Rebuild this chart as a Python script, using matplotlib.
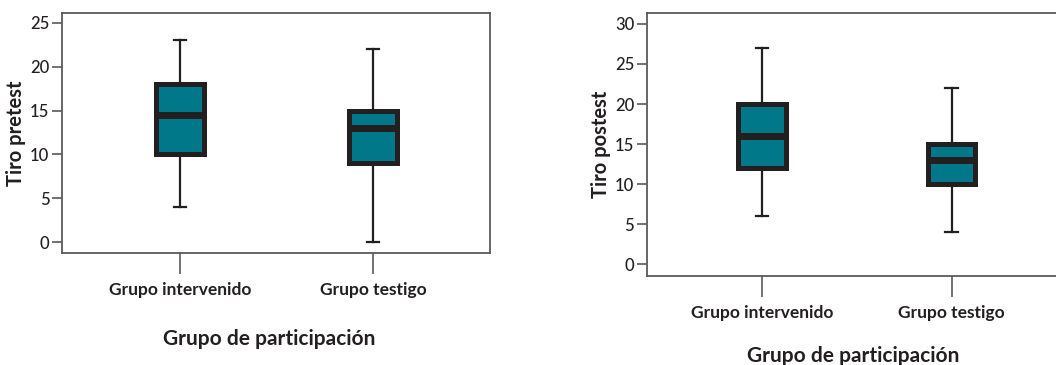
import matplotlib
matplotlib.use("Agg")
import matplotlib.pyplot as plt

plt.rcParams['font.family'] = ['Lato', 'DejaVu Sans']

groups = ["Grupo intervenido", "Grupo testigo"]

# Five-number summaries: (whisker low, Q1, median, Q3, whisker high)
pre_intervenido = [4, 10, 14.5, 18, 23]
pre_testigo = [0, 9, 13, 15, 22]
post_intervenido = [6, 12, 16, 20, 27]
post_testigo = [4, 10, 13, 15, 22]

pre_ticks = [0, 5, 10, 15, 20, 25]
post_ticks = [0, 5, 10, 15, 20, 25, 30]

FILL = "#00788A"
EDGE = "#231F20"
SPINE = "#5a5a5a"


def stats(name, s):
    return dict(label=name, whislo=s[0], q1=s[1], med=s[2], q3=s[3], whishi=s[4], fliers=[])


def draw(ax, series, ticks, ylim, xlim, ylabel, xlabel_pad, xlabel_x):
    bxp = [stats(g, s) for g, s in zip(groups, series)]
    ax.bxp(bxp, positions=[1, 2], widths=0.25, capwidths=0.065, patch_artist=True,
           showfliers=False,
           boxprops=dict(facecolor=FILL, edgecolor=EDGE, linewidth=3.6),
           medianprops=dict(color=EDGE, linewidth=5.0, solid_capstyle='butt'),
           whiskerprops=dict(color=EDGE, linewidth=1.6),
           capprops=dict(color=EDGE, linewidth=1.6))
    ax.set_ylim(*ylim)
    ax.set_xlim(*xlim)
    ax.set_yticks(ticks)
    ax.set_yticklabels([str(t) for t in ticks], fontsize=12, fontweight='medium', color=EDGE)
    ax.set_xticks([1, 2])
    ax.set_xticklabels(groups, fontsize=12.5, fontweight='bold', color=EDGE)
    ax.tick_params(axis='y', length=7, width=1.2, color=SPINE, pad=2)
    ax.tick_params(axis='x', length=15, width=1.2, color=SPINE, pad=6)
    for sp in ax.spines.values():
        sp.set_color(SPINE)
        sp.set_linewidth(1.3)
    ax.set_ylabel(ylabel, fontsize=14.5, fontweight='bold', color=EDGE, labelpad=3)
    ax.set_xlabel("Grupo de participación", fontsize=15, fontweight='bold', color=EDGE,
                  labelpad=xlabel_pad)
    ax.xaxis.label.set_x(xlabel_x)


fig = plt.figure(figsize=(10.56, 3.65), dpi=100)

ax1 = fig.add_axes([0.0587, 0.3068, 0.4053, 0.6576])
draw(ax1, [pre_intervenido, pre_testigo], pre_ticks, (-1.22, 26.1), (0.388, 2.606),
     "Tiro pretest", 22, 0.483)

ax2 = fig.add_axes([0.6124, 0.2438, 0.3876, 0.7214])
draw(ax2, [post_intervenido, post_testigo], post_ticks, (-1.46, 31.4), (0.393, 2.55),
     "Tiro postest", 18, 0.504)
ax2.spines['right'].set_visible(False)

fig.savefig("out.png", dpi=100)
